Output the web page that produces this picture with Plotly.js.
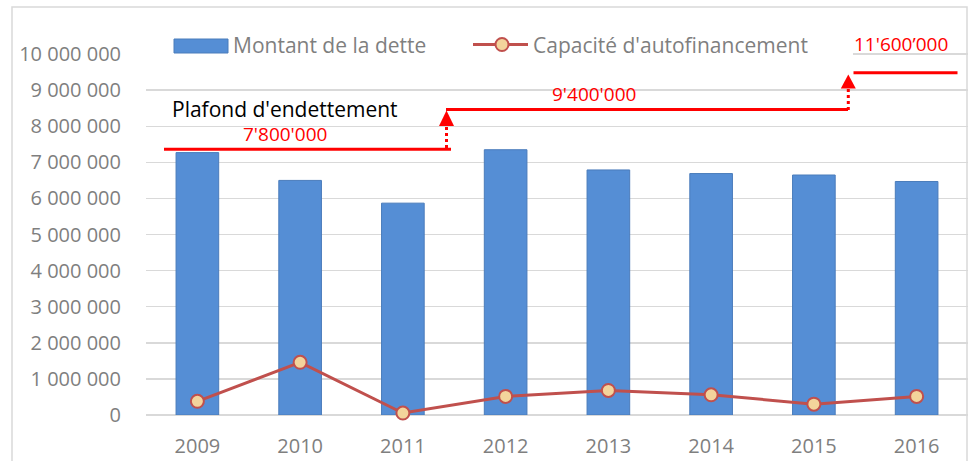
<!DOCTYPE html>
<html>
<head>
<meta charset="utf-8">
<script src="https://cdn.plot.ly/plotly-3.0.1.min.js"></script>
<style>html,body{margin:0;padding:0;background:#fff;}#chart{width:969px;height:461px;}</style>
</head>
<body>
<div id="chart"></div>
<script>
// ---- data ----
const categories = ['2009', '2010', '2011', '2012', '2013', '2014', '2015', '2016'];
const detteValues = [7270000, 6500000, 5870000, 7350000, 6790000, 6690000, 6650000, 6470000];
const cafValues = [380000, 1460000, 55000, 515000, 680000, 560000, 300000, 515000];
const yTickVals = [0, 1000000, 2000000, 3000000, 4000000, 5000000, 6000000, 7000000, 8000000, 9000000, 10000000];
const yTickText = ['0', '1 000 000', '2 000 000', '3 000 000', '4 000 000', '5 000 000', '6 000 000', '7 000 000', '8 000 000', '9 000 000', '10 000 000'];
const seriesNames = ['Montant de la dette', "Capacité d'autofinancement"];
const plafondTitle = "Plafond d'endettement";
const plafondLabels = ["7'800'000", "9'400'000", "11'600\u2019000"];

// ---- layout helpers (pixel -> paper) ----
const W = 969, H = 461, L = 146, R = 968, T = 18, B = 415;
const px = x => (x - L) / (R - L);
const py = y => (B - y) / (B - T);

const barColor = '#558ed5';
const barEdge = '#4a7cbb';
const lineColor = '#c0504d';
const markerFill = '#f3d49b';
const red = '#ff0000';
const gray = '#7f7f7f';
const FONT = 'Open Sans, Liberation Sans, sans-serif';

const traces = [
  {
    type: 'bar', x: categories, y: detteValues, name: seriesNames[0],
    marker: {color: barColor, line: {color: barEdge, width: 1}},
    showlegend: false, hoverinfo: 'x+y'
  },
  {
    type: 'scatter', mode: 'lines+markers', x: categories, y: cafValues, name: seriesNames[1],
    line: {color: lineColor, width: 3},
    marker: {size: 13, color: markerFill, line: {color: lineColor, width: 2}},
    showlegend: false, cliponaxis: false
  }
];

function hline(x0, x1, y, dash) {
  return {type: 'line', xref: 'paper', yref: 'paper', x0: px(x0), x1: px(x1), y0: py(y), y1: py(y),
          line: {color: red, width: 3, dash: dash || 'solid'}, layer: 'above'};
}
function vline(x, y0, y1) {
  return {type: 'line', xref: 'paper', yref: 'paper', x0: px(x), x1: px(x), y0: py(y0), y1: py(y1),
          line: {color: red, width: 3, dash: 'dot'}, layer: 'above'};
}
function arrowHead(x, tip, base, half) {
  return {type: 'path', xref: 'paper', yref: 'paper',
          path: 'M' + px(x) + ',' + py(tip) + ' L' + px(x - half) + ',' + py(base) + ' L' + px(x + half) + ',' + py(base) + ' Z',
          fillcolor: red, line: {color: red, width: 0}, layer: 'above'};
}

const shapes = [
  // chart frame
  {type: 'rect', xref: 'paper', yref: 'paper', x0: px(12), x1: px(967), y0: py(470), y1: py(7),
   line: {color: '#d9d9d9', width: 1.5}, fillcolor: 'rgba(0,0,0,0)', layer: 'below'},
  // legend background hides the top gridline
  {type: 'rect', xref: 'paper', yref: 'paper', x0: px(146), x1: px(853), y0: py(60), y1: py(30),
   line: {width: 0}, fillcolor: '#ffffff', layer: 'above'},
  // legend symbols
  {type: 'rect', xref: 'paper', yref: 'paper', x0: px(174), x1: px(228), y0: py(53), y1: py(39),
   line: {color: barEdge, width: 1}, fillcolor: barColor, layer: 'above'},
  {type: 'line', xref: 'paper', yref: 'paper', x0: px(473), x1: px(528), y0: py(44.5), y1: py(44.5),
   line: {color: lineColor, width: 3}, layer: 'above'},
  {type: 'circle', xref: 'paper', yref: 'paper', x0: px(495.5), x1: px(508.5), y0: py(51), y1: py(38),
   line: {color: lineColor, width: 2}, fillcolor: markerFill, layer: 'above'},
  // debt ceiling steps
  hline(164, 451, 149.3),
  vline(446.5, 148, 125),
  arrowHead(446.5, 110.5, 126, 7.5),
  hline(446, 848, 109.5),
  vline(848.3, 110, 87),
  arrowHead(848.3, 74.5, 88.5, 7.5),
  hline(853.5, 957.5, 72.7)
];

function txt(text, x, y, size, color, xanchor) {
  return {text: text, xref: 'paper', yref: 'paper', x: px(x), y: py(y), showarrow: false,
          xanchor: xanchor || 'center', yanchor: 'middle', font: {family: FONT, size: size, color: color}};
}

const annotations = [
  txt(seriesNames[0], 231, 45.5, 21, gray, 'left'),
  txt(seriesNames[1], 531, 45.5, 21, gray, 'left'),
  txt(plafondTitle, 285, 108.5, 21, '#000000'),
  txt(plafondLabels[0], 285, 134, 19, red),
  txt(plafondLabels[1], 594, 94, 19, red),
  txt(plafondLabels[2], 900.5, 43.5, 19, red)
];

const layout = {
  width: W, height: H,
  margin: {l: L, r: W - R, t: T, b: H - B, pad: 0},
  paper_bgcolor: '#ffffff', plot_bgcolor: '#ffffff',
  font: {family: FONT, size: 20, color: gray},
  showlegend: false,
  bargap: 0.585,
  xaxis: {
    type: 'category', tickvals: categories, ticktext: categories,
    showgrid: false, zeroline: false, showline: false, ticks: '',
    tickfont: {family: FONT, size: 20, color: gray}, ticklabelstandoff: 17
  },
  yaxis: {
    range: [0, 11000000], tickvals: yTickVals, ticktext: yTickText,
    showgrid: true, gridcolor: '#d9d9d9', gridwidth: 1.5,
    zeroline: true, zerolinecolor: '#d9d9d9', zerolinewidth: 1.5,
    showline: false, ticks: '',
    tickfont: {family: FONT, size: 20, color: gray}, ticklabelstandoff: 24
  },
  shapes: shapes,
  annotations: annotations
};

Plotly.newPlot('chart', traces, layout, {displayModeBar: false, staticPlot: true});
</script>
</body>
</html>
